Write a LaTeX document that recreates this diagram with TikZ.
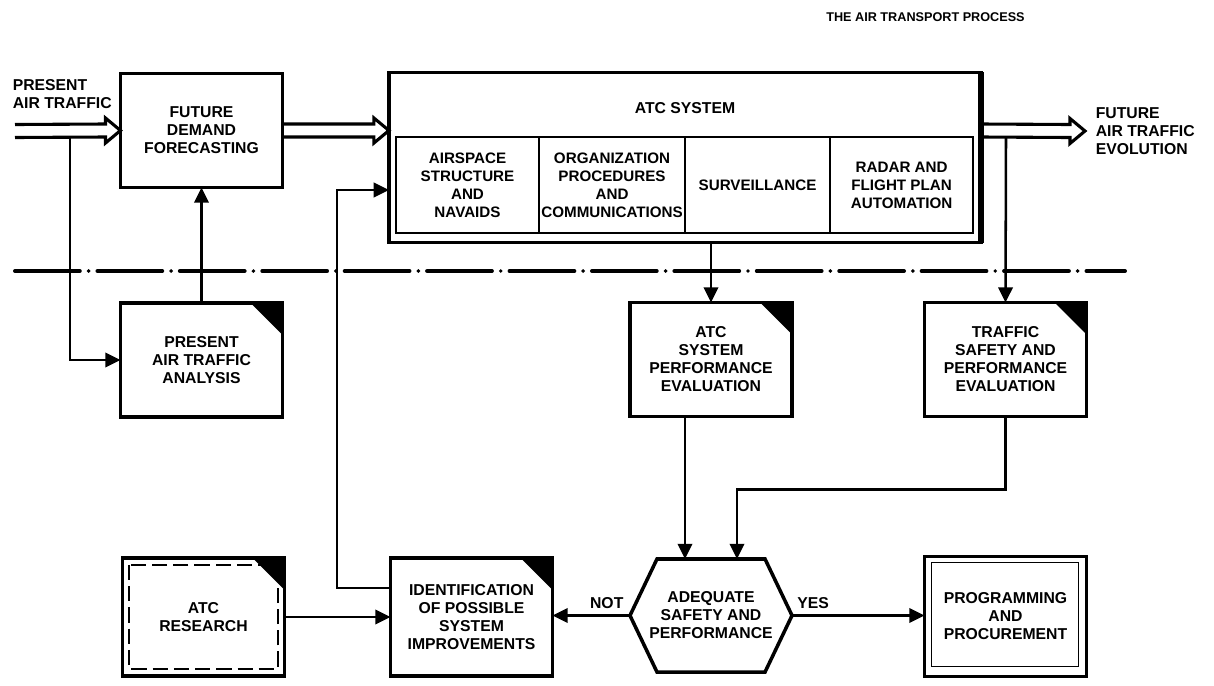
\documentclass[tikz,border=0pt]{standalone}
\usepackage{fontspec}
\setmainfont{Liberation Sans}
\usetikzlibrary{positioning,calc,arrows.meta}

\newcommand{\hollowarrow}[2]{%
  \draw[fat] ($(#1)+(0,-6.5)$) -- ($(#2)+(-15,-6.5)$) -- ($(#2)+(-15,-12.5)$) -- (#2)
    -- ($(#2)+(-15,12.5)$) -- ($(#2)+(-15,6.5)$) -- ($(#1)+(0,6.5)$);}

\begin{document}
\begin{tikzpicture}[x=0.025cm, y=-0.025cm,
      every node/.style = {font=\fontsize{11.2}{12.8}\selectfont\bfseries,
        align=center, inner sep=2pt, outer sep=0pt},
      block/.style = {draw, line width=2.5pt, minimum width=4.05cm, minimum height=2.85cm},
      dogear/.style = {path picture={\fill ([xshift=-0.8cm]path picture bounding box.north east)
        -- (path picture bounding box.north east)
        -- ([yshift=-0.8cm]path picture bounding box.north east) -- cycle;}},
      part/.style = {draw, line width=1.2pt, minimum height=2.4cm, inner sep=1pt,
        font=\fontsize{10.8}{12.8}\selectfont\bfseries},
      conn/.style = {line width=1.8pt},
      flow/.style = {-{Triangle[length=0.38cm, width=0.36cm]}},
      fat/.style = {line width=2.2pt, line join=miter},
      divider/.style = {line width=2.8pt, line cap=round,
        dash pattern=on 1.62cm off 0.22cm on 0pt off 0.22cm}]
  \useasboundingbox (0,0) rectangle (1214,685);

  \node[font=\fontsize{9}{11}\selectfont\bfseries] (title) at (925.5,17) {THE AIR TRANSPORT PROCESS};
  \node[anchor=west, align=left] (inlbl) at (10,94) {PRESENT\\AIR TRAFFIC};
  \node[anchor=west, align=left] (outlbl) at (1093,131) {FUTURE\\AIR TRAFFIC\\EVOLUTION};

  \node[block] (fdf) at (201.5,130.5) {FUTURE\\DEMAND\\FORECASTING};
  \node[block, dogear] (patc) at (201.5,360) {PRESENT\\AIR TRAFFIC\\ANALYSIS};

  \node[draw, line width=2.4pt, minimum width=14.8cm, minimum height=4.25cm] (atc) at (685,157.5) {};
  \draw[line width=4pt] (atc.north east) -- (atc.south east);
  \node (atclbl) at (685,108) {ATC SYSTEM};
  \node[part, minimum width=3.575cm] (asn) at (467.5,185) {AIRSPACE\\STRUCTURE\\AND\\NAVAIDS};
  \node[part, minimum width=3.65cm, right=0pt of asn] (opc) {ORGANIZATION\\PROCEDURES\\AND\\COMMUNICATIONS};
  \node[part, minimum width=3.625cm, right=0pt of opc] (srv) {SURVEILLANCE};
  \node[part, minimum width=3.575cm, right=0pt of srv] (rfp) {RADAR AND\\FLIGHT PLAN\\AUTOMATION};

  \node[block, dogear] (perf) at (711,359.5) {ATC\\SYSTEM\\PERFORMANCE\\EVALUATION};
  \node[block, dogear] (tse) at (1005.5,359.5) {TRAFFIC\\SAFETY AND\\PERFORMANCE\\EVALUATION};

  \node[block, dogear, minimum height=2.95cm] (res) at (203.5,617) {ATC\\RESEARCH};
  \draw[line width=1.4pt, dash pattern=on 0.38cm off 0.15cm]
    ($(res.north west)+(7,7)$) rectangle ($(res.south east)+(-7,-7)$);
  \node[block, dogear, minimum height=2.95cm] (ident) at (471.5,617) {IDENTIFICATION\\OF POSSIBLE\\SYSTEM\\IMPROVEMENTS};
  \node[minimum width=4.05cm, minimum height=2.825cm] (adq) at (711,615.5) {ADEQUATE\\SAFETY AND\\PERFORMANCE};
  \draw[line width=2.5pt] (adq.west) -- ($(adq.north west)+(27,0)$) -- ($(adq.north east)+(-27,0)$)
    -- (adq.east) -- ($(adq.south east)+(-27,0)$) -- ($(adq.south west)+(27,0)$) -- cycle;
  \node[block, minimum height=3cm] (prog) at (1005.5,616.5) {PROGRAMMING\\AND\\PROCUREMENT};
  \draw[line width=1.1pt] ($(prog.north west)+(7,6)$) rectangle ($(prog.south east)+(-8,-10)$);

  \coordinate (divL) at (15,271);
  \coordinate (divR) at (1125,271);
  \draw[divider] (divL) -- (divR);

  \coordinate (inL) at (15,131);
  \coordinate (outR) at (1085,131);
  \coordinate (atcin) at (atc.west |- fdf.east);
  \coordinate (atcout) at (atc.east |- fdf.east);
  \hollowarrow{inL}{fdf.west}
  \hollowarrow{fdf.east}{atcin}
  \hollowarrow{atcout}{outR}

  \coordinate (split) at (70,137.5);
  \coordinate (outsplit) at (1006,137.5);
  \coordinate (fbtop) at (337,190);
  \coordinate (fbbot) at (337,588);
  \coordinate (adqa) at ($(adq.north)+(-26,0)$);
  \coordinate (adqb) at ($(adq.north)+(26,0)$);
  \draw[conn, flow] (split) |- (patc.west);
  \draw[conn, flow] (patc.north) -- (fdf.south);
  \draw[conn, flow] (ident.west |- fbbot) -- (fbbot) -- (fbtop) -- (atc.west |- fbtop);
  \draw[conn, flow] (atc.south -| perf.north) -- (perf.north);
  \draw[conn, flow] (outsplit) -- (tse.north);
  \draw[conn, flow] (perf.south -| adqa) -- (adqa);
  \draw[conn, flow] (tse.south) -- ++(0,73) -| (adqb);
  \draw[conn, flow] (res.east) -- (ident.west);
  \draw[conn, flow] (adq.west) -- node[above=3pt, pos=0.3] {NOT} (adq.west -| ident.east);
  \draw[conn, flow] (adq.east) -- node[above=3pt, pos=0.16] {YES} (adq.east -| prog.west);
\end{tikzpicture}
\end{document}
